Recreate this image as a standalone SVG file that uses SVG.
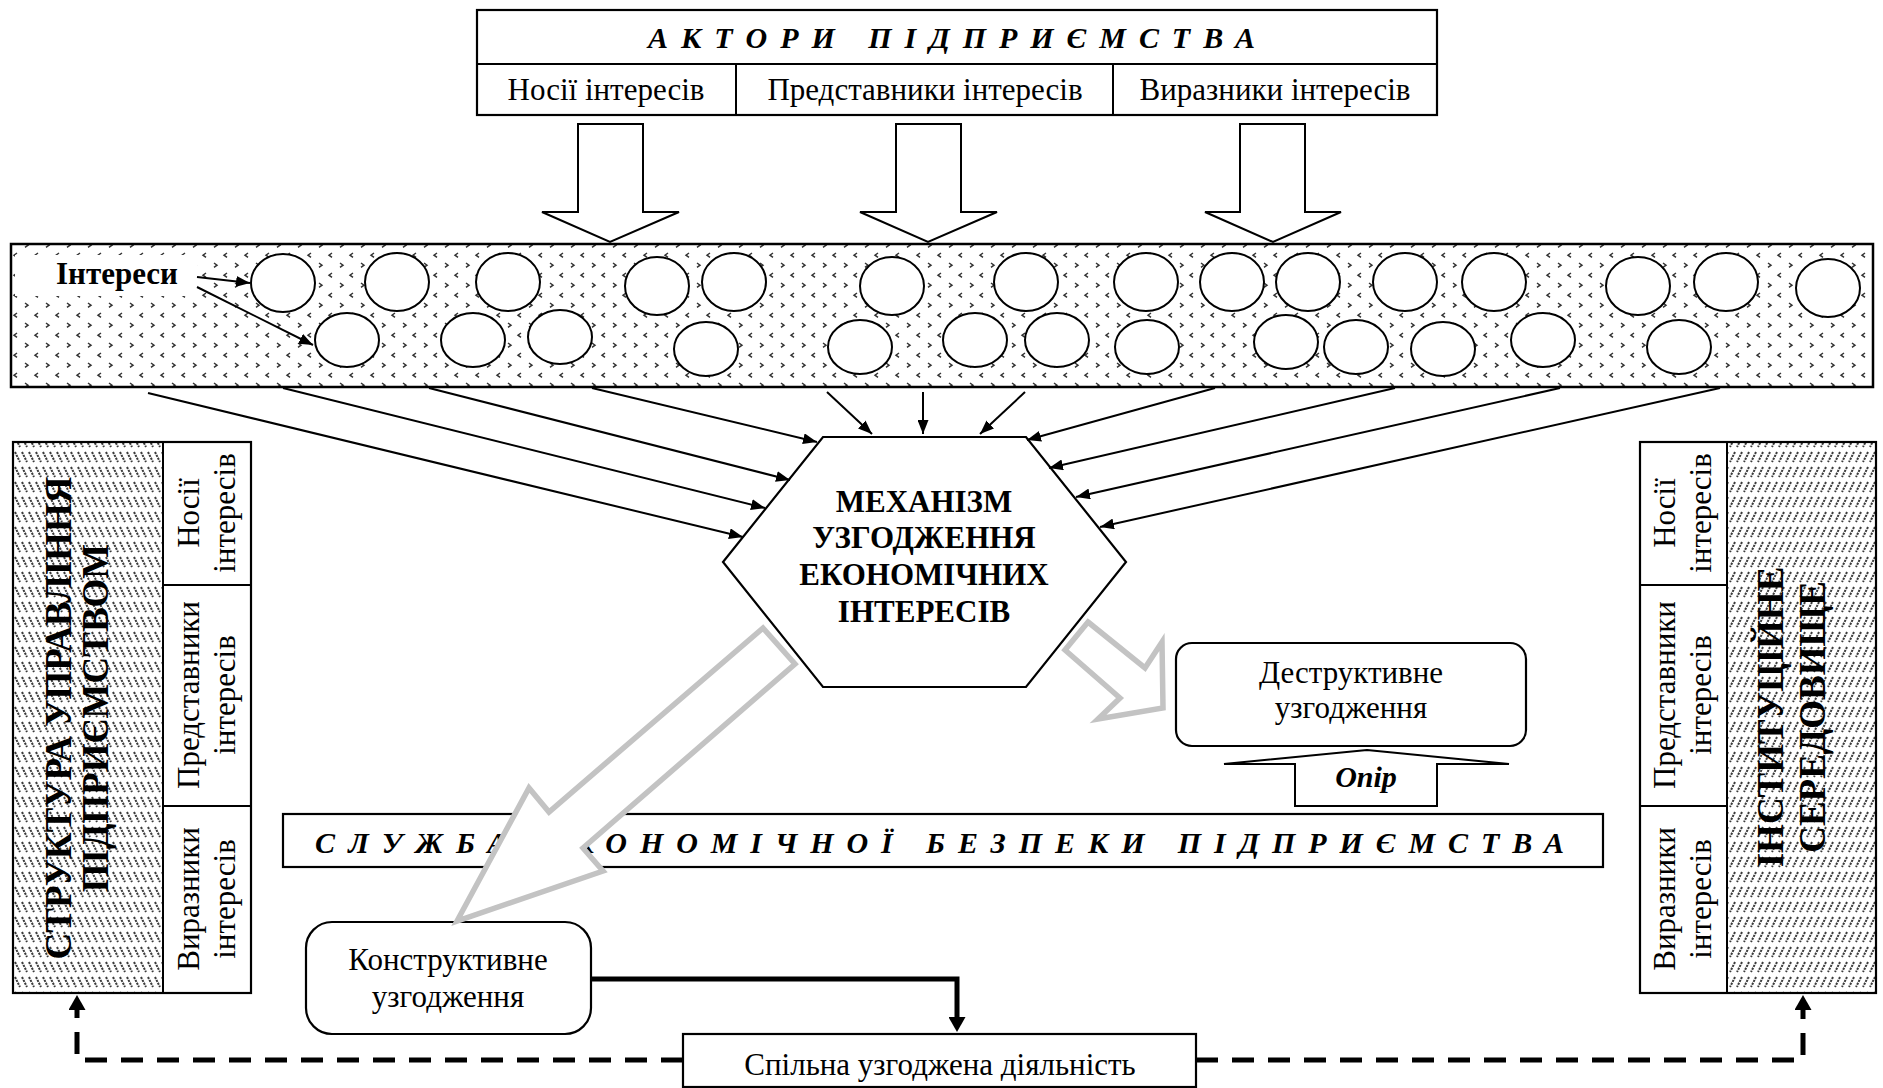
<svg xmlns="http://www.w3.org/2000/svg" width="1883" height="1088" viewBox="0 0 1883 1088">
<style>
.t{font-family:"Liberation Serif","Times New Roman",serif;font-size:31px;fill:#000}
.b{font-weight:bold}
.bi{font-weight:bold;font-style:italic}
.box{fill:#fff;stroke:#000;stroke-width:2.2}
.ln{stroke:#000;stroke-width:2;fill:none}
.thin{stroke:#000;stroke-width:2;fill:none}
.gray{fill:#fff;stroke:#c3c3c3;stroke-width:5.5;stroke-linejoin:miter}
.hollow{fill:#fff;stroke:#000;stroke-width:2}
.circ{fill:#fff;stroke:#000;stroke-width:2}
.dash{stroke:#000;stroke-width:5;fill:none;stroke-dasharray:22 14}
</style>
<defs>
<pattern id="chev" width="21" height="20" patternUnits="userSpaceOnUse">
<path d="M4,3 l3,2.2 l-3,2.2 M17,13 l-3,2.2 l3,2.2" fill="none" stroke="#333" stroke-width="1.5"/>
</pattern>
<pattern id="hl" width="7" height="15" patternUnits="userSpaceOnUse">
<path d="M1,2 L6,12" stroke="#3a3a3a" stroke-width="2" stroke-dasharray="2.2 1"/>
</pattern>
<pattern id="hr" width="7" height="15" patternUnits="userSpaceOnUse">
<path d="M6,2 L1,12" stroke="#3a3a3a" stroke-width="2" stroke-dasharray="2.2 1"/>
</pattern>
<marker id="ah" markerWidth="14" markerHeight="11" refX="14" refY="5.5" orient="auto" markerUnits="userSpaceOnUse">
<path d="M0,0 L14,5.5 L0,11 z" fill="#000"/>
</marker>
<marker id="ahb" markerWidth="15" markerHeight="17" refX="0" refY="8.5" orient="auto" markerUnits="userSpaceOnUse">
<path d="M0,0 L15,8.5 L0,17 z" fill="#000"/>
</marker>
</defs>
<rect width="1883" height="1088" fill="#fff"/>

<g id="actors">
<rect class="box" x="477" y="10" width="960" height="105"/>
<line class="ln" x1="477" y1="64" x2="1437" y2="64"/>
<line class="ln" x1="736" y1="64" x2="736" y2="115"/>
<line class="ln" x1="1113" y1="64" x2="1113" y2="115"/>
<text class="t bi" x="648" y="48" textLength="607" lengthAdjust="spacing" style="font-size:30px">АКТОРИ ПІДПРИЄМСТВА</text>
<text class="t" x="606" y="100" text-anchor="middle">Носії інтересів</text>
<text class="t" x="925" y="100" text-anchor="middle">Представники інтересів</text>
<text class="t" x="1275" y="100" text-anchor="middle">Виразники інтересів</text>
</g>

<g id="interests">
<rect x="11" y="244" width="1862" height="143" fill="#fff"/>
<rect x="11" y="244" width="1862" height="143" fill="url(#chev)" stroke="#000" stroke-width="2.5"/>
<rect x="15" y="255" width="182" height="41" fill="#fff"/>
<text class="t b" x="56" y="284" style="font-size:31px">Інтереси</text>
<ellipse class="circ" cx="283" cy="283" rx="32" ry="29"/>
<ellipse class="circ" cx="397" cy="282" rx="32" ry="29"/>
<ellipse class="circ" cx="508" cy="282" rx="32" ry="29"/>
<ellipse class="circ" cx="657" cy="286" rx="32" ry="29"/>
<ellipse class="circ" cx="734" cy="282" rx="32" ry="29"/>
<ellipse class="circ" cx="892" cy="286" rx="32" ry="29"/>
<ellipse class="circ" cx="1026" cy="282" rx="32" ry="29"/>
<ellipse class="circ" cx="1146" cy="282" rx="32" ry="29"/>
<ellipse class="circ" cx="1232" cy="282" rx="32" ry="29"/>
<ellipse class="circ" cx="1308" cy="282" rx="32" ry="29"/>
<ellipse class="circ" cx="1405" cy="282" rx="32" ry="29"/>
<ellipse class="circ" cx="1494" cy="282" rx="32" ry="29"/>
<ellipse class="circ" cx="1638" cy="286" rx="32" ry="29"/>
<ellipse class="circ" cx="1726" cy="282" rx="32" ry="29"/>
<ellipse class="circ" cx="1828" cy="288" rx="32" ry="29"/>
<ellipse class="circ" cx="347" cy="340" rx="32" ry="27"/>
<ellipse class="circ" cx="473" cy="340" rx="32" ry="27"/>
<ellipse class="circ" cx="560" cy="337" rx="32" ry="27"/>
<ellipse class="circ" cx="706" cy="349" rx="32" ry="27"/>
<ellipse class="circ" cx="860" cy="347" rx="32" ry="27"/>
<ellipse class="circ" cx="975" cy="340" rx="32" ry="27"/>
<ellipse class="circ" cx="1057" cy="340" rx="32" ry="27"/>
<ellipse class="circ" cx="1147" cy="347" rx="32" ry="27"/>
<ellipse class="circ" cx="1286" cy="342" rx="32" ry="27"/>
<ellipse class="circ" cx="1356" cy="347" rx="32" ry="27"/>
<ellipse class="circ" cx="1443" cy="349" rx="32" ry="27"/>
<ellipse class="circ" cx="1543" cy="340" rx="32" ry="27"/>
<ellipse class="circ" cx="1679" cy="347" rx="32" ry="27"/>
</g>

<g id="mechanism">
<polygon class="box" points="823,437 1026,437 1126,562 1026,687 823,687 723,562"/>
<text class="t b" x="924" y="512" text-anchor="middle">МЕХАНІЗМ</text>
<text class="t b" x="924" y="548" text-anchor="middle">УЗГОДЖЕННЯ</text>
<text class="t b" x="924" y="585" text-anchor="middle">ЕКОНОМІЧНИХ</text>
<text class="t b" x="924" y="622" text-anchor="middle">ІНТЕРЕСІВ</text>
</g>

<g id="left-panel">
<rect x="13" y="442" width="150" height="551" fill="#fff"/>
<rect x="13" y="442" width="150" height="551" fill="url(#hl)"/>
<rect class="box" x="13" y="442" width="238" height="551" style="fill:none"/>
<line class="ln" x1="163" y1="442" x2="163" y2="993"/>
<line class="ln" x1="163" y1="585" x2="251" y2="585"/>
<line class="ln" x1="163" y1="806" x2="251" y2="806"/>
<text class="t b" transform="translate(71,718) rotate(-90)" text-anchor="middle" style="font-size:37px">СТРУКТУРА УПРАВЛІННЯ</text>
<text class="t b" transform="translate(108,718) rotate(-90)" text-anchor="middle" style="font-size:37px">ПІДПРИЄМСТВОМ</text>
<text class="t" transform="translate(199,513) rotate(-90)" text-anchor="middle">Носії</text>
<text class="t" transform="translate(235,513) rotate(-90)" text-anchor="middle">інтересів</text>
<text class="t" transform="translate(199,695) rotate(-90)" text-anchor="middle">Представники</text>
<text class="t" transform="translate(235,695) rotate(-90)" text-anchor="middle">інтересів</text>
<text class="t" transform="translate(199,899) rotate(-90)" text-anchor="middle">Виразники</text>
<text class="t" transform="translate(235,899) rotate(-90)" text-anchor="middle">інтересів</text>
</g>

<g id="right-panel">
<rect x="1727" y="442" width="149" height="551" fill="#fff"/>
<rect x="1727" y="442" width="149" height="551" fill="url(#hr)"/>
<rect class="box" x="1640" y="442" width="236" height="551" style="fill:none"/>
<line class="ln" x1="1727" y1="442" x2="1727" y2="993"/>
<line class="ln" x1="1640" y1="585" x2="1727" y2="585"/>
<line class="ln" x1="1640" y1="806" x2="1727" y2="806"/>
<text class="t b" transform="translate(1783,717) rotate(-90)" text-anchor="middle" style="font-size:37px">ІНСТИТУЦІЙНЕ</text>
<text class="t b" transform="translate(1825,717) rotate(-90)" text-anchor="middle" style="font-size:37px">СЕРЕДОВИЩЕ</text>
<text class="t" transform="translate(1675,513) rotate(-90)" text-anchor="middle">Носії</text>
<text class="t" transform="translate(1711,513) rotate(-90)" text-anchor="middle">інтересів</text>
<text class="t" transform="translate(1675,695) rotate(-90)" text-anchor="middle">Представники</text>
<text class="t" transform="translate(1711,695) rotate(-90)" text-anchor="middle">інтересів</text>
<text class="t" transform="translate(1675,899) rotate(-90)" text-anchor="middle">Виразники</text>
<text class="t" transform="translate(1711,899) rotate(-90)" text-anchor="middle">інтересів</text>
</g>

<g id="destructive">
<rect class="box" x="1176" y="643" width="350" height="103" rx="16"/>
<text class="t" x="1351" y="683" text-anchor="middle">Деструктивне</text>
<text class="t" x="1351" y="718" text-anchor="middle">узгодження</text>
</g>

<g id="resistance">
<polygon class="hollow" points="1295,806 1295,764 1224,764 1367,750 1509,764 1437,764 1437,806"/>
<text class="t bi" x="1366" y="787" text-anchor="middle" style="font-size:30px">Опір</text>
</g>

<g id="security-service">
<rect class="box" x="283" y="814" width="1320" height="53"/>
<text class="t bi" x="315" y="853" textLength="1249" lengthAdjust="spacing" style="font-size:30px">СЛУЖБА ЕКОНОМІЧНОЇ БЕЗПЕКИ ПІДПРИЄМСТВА</text>
</g>

<g id="constructive">
<rect class="box" x="306" y="922" width="285" height="112" rx="26"/>
<text class="t" x="448" y="970" text-anchor="middle">Конструктивне</text>
<text class="t" x="448" y="1007" text-anchor="middle">узгодження</text>
</g>

<g id="joint-activity">
<rect class="box" x="683" y="1034" width="513" height="53"/>
<text class="t" x="940" y="1075" text-anchor="middle">Спільна узгоджена діяльність</text>
</g>

<g id="connectors">
<polygon class="hollow" points="578,124 643,124 643,212 679,212 610,242 542,212 578,212"/>
<polygon class="hollow" points="896,124 961,124 961,212 997,212 928,242 860,212 896,212"/>
<polygon class="hollow" points="1240,124 1305,124 1305,212 1341,212 1273,242 1205,212 1240,212"/>
<line class="thin" x1="197" y1="277" x2="250" y2="283" marker-end="url(#ah)"/>
<line class="thin" x1="197" y1="287" x2="313" y2="345" marker-end="url(#ah)"/>
<line class="thin" x1="148" y1="393" x2="743" y2="537" marker-end="url(#ah)"/>
<line class="thin" x1="283" y1="388" x2="765" y2="508" marker-end="url(#ah)"/>
<line class="thin" x1="429" y1="388" x2="790" y2="480" marker-end="url(#ah)"/>
<line class="thin" x1="592" y1="388" x2="817" y2="442" marker-end="url(#ah)"/>
<line class="thin" x1="827" y1="392" x2="872" y2="434" marker-end="url(#ah)"/>
<line class="thin" x1="923" y1="392" x2="923" y2="434" marker-end="url(#ah)"/>
<line class="thin" x1="1025" y1="392" x2="980" y2="434" marker-end="url(#ah)"/>
<line class="thin" x1="1215" y1="388" x2="1027" y2="440" marker-end="url(#ah)"/>
<line class="thin" x1="1395" y1="388" x2="1049" y2="468" marker-end="url(#ah)"/>
<line class="thin" x1="1560" y1="388" x2="1076" y2="497" marker-end="url(#ah)"/>
<line class="thin" x1="1720" y1="388" x2="1100" y2="527" marker-end="url(#ah)"/>
<polygon class="gray" points="763,628 549,812 529,788 457,921 603,871 583,848 795,664"/>
<polygon class="gray" points="1088,622 1145,668 1162,642 1163,708 1098,719 1120,698 1065,650"/>
<path d="M591,979 H957 V1017" stroke="#000" stroke-width="5" fill="none" marker-end="url(#ahb)"/>
<path class="dash" d="M683,1060 H77 V1010" marker-end="url(#ahb)"/>
<path class="dash" d="M1196,1060 H1803 V1010" marker-end="url(#ahb)"/>
</g>
</svg>
